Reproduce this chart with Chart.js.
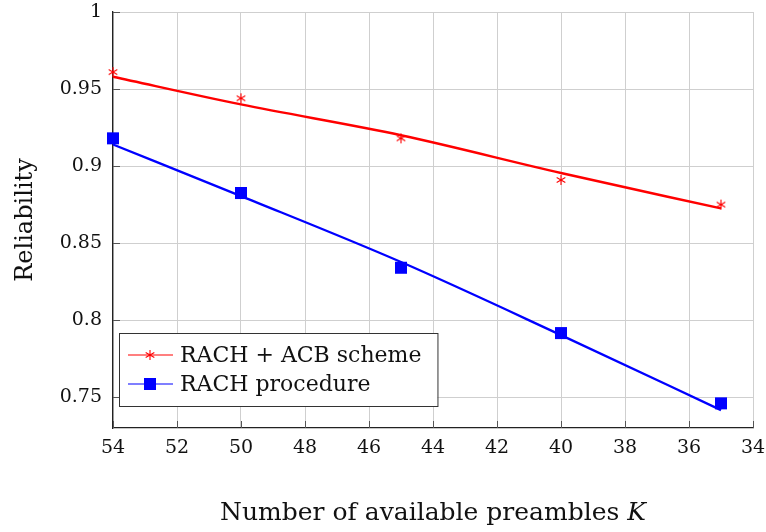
<!DOCTYPE html>
<html>
<head>
<meta charset="utf-8">
<title>Reliability vs preambles</title>
<script src="https://cdn.jsdelivr.net/npm/chart.js@4.4.1/dist/chart.umd.min.js"></script>
<style>
  html, body { margin: 0; padding: 0; background: #fff; }
  canvas { display: block; }
</style>
</head>
<body>
<canvas id="reliabilityChart" width="766" height="532"></canvas>
<script>
// number of available preambles K
const kValues = [54, 50, 45, 40, 35];

// RACH + ACB scheme: simulated points and fitted curve
const acbPoints = [0.961, 0.944, 0.918, 0.891, 0.875];
const acbFit = [0.958, 0.940, 0.920, 0.8955, 0.8725];

// plain RACH procedure: simulated points and fitted curve
const rachPoints = [0.918, 0.8825, 0.834, 0.7916, 0.746];
const rachFit = [0.914, 0.8805, 0.8377, 0.7903, 0.7416];

const xTicks = [54, 52, 50, 48, 46, 44, 42, 40, 38, 36, 34];
const yTicks = [0.75, 0.8, 0.85, 0.9, 0.95, 1];

const FONT = "'DejaVu Serif', serif";
const RED = '#ff0000';
const BLUE = '#0000ff';

function toXY(ys) {
  return kValues.map((k, i) => ({ x: k, y: ys[i] }));
}

// six-armed asterisk marker
function makeAsterisk(size, color) {
  const c = document.createElement('canvas');
  c.width = size + 2;
  c.height = size + 2;
  const g = c.getContext('2d');
  const cx = c.width / 2, cy = c.height / 2, r = size / 2;
  g.strokeStyle = color;
  g.lineWidth = 1.1;
  g.beginPath();
  [90, 30, 150].forEach(deg => {
    const a = deg * Math.PI / 180;
    g.moveTo(cx - r * Math.cos(a), cy - r * Math.sin(a));
    g.lineTo(cx + r * Math.cos(a), cy + r * Math.sin(a));
  });
  g.stroke();
  return c;
}
const asterisk = makeAsterisk(10, RED);

// small inward tick marks on the left and bottom axes
const innerTicks = {
  id: 'innerTicks',
  afterDatasetsDraw(chart) {
    const { ctx, chartArea, scales } = chart;
    ctx.save();
    ctx.strokeStyle = '#555';
    ctx.lineWidth = 1;
    ctx.beginPath();
    xTicks.forEach(v => {
      const px = Math.round(scales.x.getPixelForValue(v)) + 0.5;
      ctx.moveTo(px, chartArea.bottom);
      ctx.lineTo(px, chartArea.bottom - 7);
    });
    yTicks.forEach(v => {
      const py = Math.round(scales.y.getPixelForValue(v)) + 0.5;
      ctx.moveTo(chartArea.left, py);
      ctx.lineTo(chartArea.left + 7, py);
    });
    ctx.stroke();
    ctx.restore();
  }
};

// x axis title with the italic K
const xTitle = {
  id: 'xTitle',
  afterDraw(chart) {
    const { ctx, chartArea } = chart;
    const plain = 'Number of available preambles ';
    const sym = 'K';
    ctx.save();
    ctx.fillStyle = '#111';
    ctx.textBaseline = 'alphabetic';
    ctx.textAlign = 'left';
    ctx.font = '25px ' + FONT;
    const w1 = ctx.measureText(plain).width;
    ctx.font = 'italic 25px ' + FONT;
    const w2 = ctx.measureText(sym).width;
    const x = (chartArea.left + chartArea.right) / 2 - (w1 + w2) / 2;
    const y = chartArea.bottom + 92;
    ctx.font = '25px ' + FONT;
    ctx.fillText(plain, x, y);
    ctx.font = 'italic 25px ' + FONT;
    ctx.fillText(sym, x + w1, y);
    ctx.restore();
  }
};

// boxed legend inside the plot, lower left corner
const boxLegend = {
  id: 'boxLegend',
  afterDraw(chart) {
    const { ctx, chartArea } = chart;
    const entries = [
      { text: 'RACH + ACB scheme', color: RED, marker: 'star' },
      { text: 'RACH procedure', color: BLUE, marker: 'rect' }
    ];
    ctx.save();
    ctx.font = '22px ' + FONT;
    const textW = Math.max(...entries.map(e => ctx.measureText(e.text).width));
    const x0 = chartArea.left + 6;
    const rowH = 29;
    const h = 73;
    const w = 61 + textW + 16;
    const y0 = chartArea.bottom - 22 - h;
    ctx.fillStyle = '#fff';
    ctx.fillRect(x0, y0, w, h);
    ctx.strokeStyle = '#333';
    ctx.lineWidth = 1;
    ctx.strokeRect(x0 + 0.5, y0 + 0.5, w, h);
    entries.forEach((e, i) => {
      const cy = y0 + 22 + i * rowH;
      ctx.strokeStyle = e.color;
      ctx.lineWidth = 1.2;
      ctx.beginPath();
      ctx.moveTo(x0 + 9, cy);
      ctx.lineTo(x0 + 54, cy);
      ctx.stroke();
      if (e.marker === 'rect') {
        ctx.fillStyle = e.color;
        ctx.fillRect(x0 + 31 - 6, cy - 6, 12, 12);
      } else {
        ctx.drawImage(asterisk, x0 + 31 - asterisk.width / 2, cy - asterisk.height / 2);
      }
      ctx.fillStyle = '#111';
      ctx.textBaseline = 'middle';
      ctx.textAlign = 'left';
      ctx.fillText(e.text, x0 + 61, cy + 1);
    });
    ctx.restore();
  }
};

const ctx = document.getElementById('reliabilityChart').getContext('2d');
new Chart(ctx, {
  type: 'scatter',
  data: {
    datasets: [
      {
        label: 'RACH + ACB scheme (fit)',
        data: toXY(acbFit),
        showLine: true,
        borderColor: RED,
        borderWidth: 2.4,
        pointRadius: 0,
        cubicInterpolationMode: 'monotone',
        clip: false
      },
      {
        label: 'RACH + ACB scheme',
        data: toXY(acbPoints),
        showLine: false,
        pointStyle: asterisk,
        pointRadius: 5,
        clip: false
      },
      {
        label: 'RACH procedure (fit)',
        data: toXY(rachFit),
        showLine: true,
        borderColor: BLUE,
        borderWidth: 2.3,
        pointRadius: 0,
        cubicInterpolationMode: 'monotone',
        clip: false
      },
      {
        label: 'RACH procedure',
        data: toXY(rachPoints),
        showLine: false,
        pointStyle: 'rect',
        pointRadius: 8.5,
        backgroundColor: BLUE,
        borderColor: BLUE,
        borderWidth: 0,
        clip: false
      }
    ]
  },
  options: {
    responsive: false,
    animation: false,
    devicePixelRatio: 1,
    layout: { padding: { left: 0, right: 13, top: 12, bottom: 0 } },
    plugins: {
      legend: { display: false },
      tooltip: { enabled: false }
    },
    scales: {
      x: {
        type: 'linear',
        reverse: true,
        min: 34,
        max: 54,
        afterBuildTicks: scale => { scale.ticks = xTicks.map(v => ({ value: v })); },
        afterFit: scale => {
          scale.height = 104;
          scale.paddingLeft = 0;
          scale.paddingRight = 0;
        },
        grid: { color: '#cfcfcf', lineWidth: 1, drawTicks: false },
        border: { display: true, color: '#222', width: 1.3 },
        ticks: {
          color: '#111',
          padding: 9,
          font: { family: FONT, size: 19 },
          maxRotation: 0,
          callback: v => String(v)
        },
        title: { display: false }
      },
      y: {
        type: 'linear',
        min: 0.73,
        max: 1,
        afterBuildTicks: scale => { scale.ticks = yTicks.map(v => ({ value: v })); },
        afterFit: scale => {
          scale.width = 113;
          scale.paddingTop = 0;
          scale.paddingBottom = 0;
        },
        grid: { color: '#cfcfcf', lineWidth: 1, drawTicks: false },
        border: { display: true, color: '#222', width: 1.3 },
        ticks: {
          color: '#111',
          padding: 11,
          font: { family: FONT, size: 19 },
          callback: v => String(v)
        },
        title: {
          display: true,
          text: 'Reliability',
          color: '#111',
          font: { family: FONT, size: 24 },
          padding: { top: 11, bottom: 0 }
        }
      }
    }
  },
  plugins: [innerTicks, xTitle, boxLegend]
});
</script>
</body>
</html>
